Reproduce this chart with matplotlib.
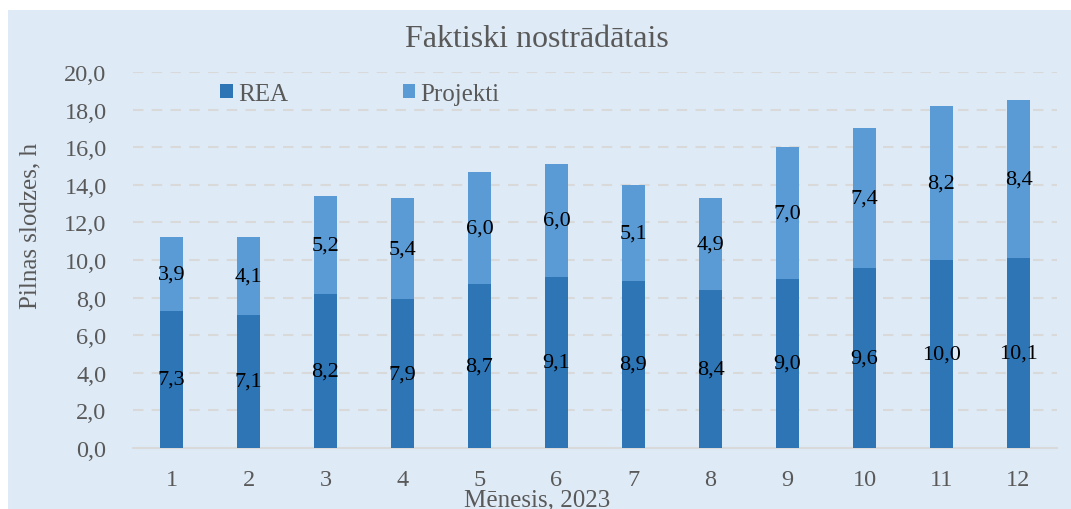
import matplotlib
matplotlib.use("Agg")
import matplotlib.pyplot as plt
from matplotlib.patches import Rectangle, Patch

# data
months = ["1", "2", "3", "4", "5", "6", "7", "8", "9", "10", "11", "12"]
rea = [7.3, 7.1, 8.2, 7.9, 8.7, 9.1, 8.9, 8.4, 9.0, 9.6, 10.0, 10.1]
projekti = [3.9, 4.1, 5.2, 5.4, 6.0, 6.0, 5.1, 4.9, 7.0, 7.4, 8.2, 8.4]
y_ticks = [0, 2, 4, 6, 8, 10, 12, 14, 16, 18, 20]

c_rea = "#2E75B6"
c_proj = "#5B9BD5"
c_bg = "#DEEAF6"
c_txt = "#595959"

plt.rcParams["font.family"] = ["Liberation Serif", "DejaVu Serif"]

W, H = 1071, 510
fig = plt.figure(figsize=(W / 100, H / 100), dpi=100)
fig.patch.set_facecolor("white")
fig.add_artist(Rectangle((8 / W, 0), 1 - 8 / W, (H - 11) / H,
                         transform=fig.transFigure, facecolor=c_bg,
                         edgecolor="none", zorder=0))

ax = fig.add_axes([133 / W, (H - 449) / H, (1057 - 133) / W, (449 - 73) / H])
ax.set_facecolor("none")

x = list(range(len(months)))
bw = 0.31
ax.bar(x, rea, width=bw, color=c_rea, zorder=3)
ax.bar(x, projekti, width=bw, bottom=rea, color=c_proj, zorder=3)

def fmt(v):
    return f"{v:.1f}".replace(".", ",")

for i in x:
    ax.text(i, rea[i] / 2, fmt(rea[i]), ha="center", va="center",
            fontsize=16, color="black", zorder=4)
    ax.text(i, rea[i] + projekti[i] / 2, fmt(projekti[i]), ha="center",
            va="center", fontsize=16, color="black", zorder=4)

ax.set_xlim(-0.5, len(months) - 0.5)
ax.set_ylim(0, 20)
ax.set_yticks(y_ticks)
ax.set_yticklabels([fmt(v) for v in y_ticks])
ax.set_xticks(x)
ax.set_xticklabels(months)
ax.tick_params(axis="both", length=0, labelsize=17.5, colors=c_txt)
ax.tick_params(axis="x", pad=15)
ax.tick_params(axis="y", pad=19)

for v in y_ticks[1:]:
    ax.axhline(v, color="#D9D9D9", lw=1.5, ls=(0, (5, 4)), zorder=1)

for s in ["top", "right", "left"]:
    ax.spines[s].set_visible(False)
ax.spines["bottom"].set_color("#D9D9D9")
ax.spines["bottom"].set_linewidth(1.5)
ax.spines["bottom"].set_zorder(2)

fig.text(537 / W, 1 - 40 / H, "Faktiski nostrādātais", ha="center",
         va="center", fontsize=23, color=c_txt)
fig.text(30 / W, 1 - 226 / H, "Pilnas slodzes, h", ha="center", va="center",
         rotation=90, fontsize=18, color=c_txt)
fig.text(537 / W, 1 - 500 / H, "Mēnesis, 2023", ha="center", va="center",
         fontsize=18, color=c_txt)

handles = [Patch(facecolor=c_rea), Patch(facecolor=c_proj)]
fig.legend(handles, ["REA", "Projekti"], loc="center",
           bbox_to_anchor=(360 / W, 1 - 95 / H), ncol=2, frameon=False,
           fontsize=18, labelcolor=c_txt, handlelength=0.5,
           handleheight=0.5, handletextpad=0.2, columnspacing=4.6)

fig.savefig("out.png", dpi=100)
